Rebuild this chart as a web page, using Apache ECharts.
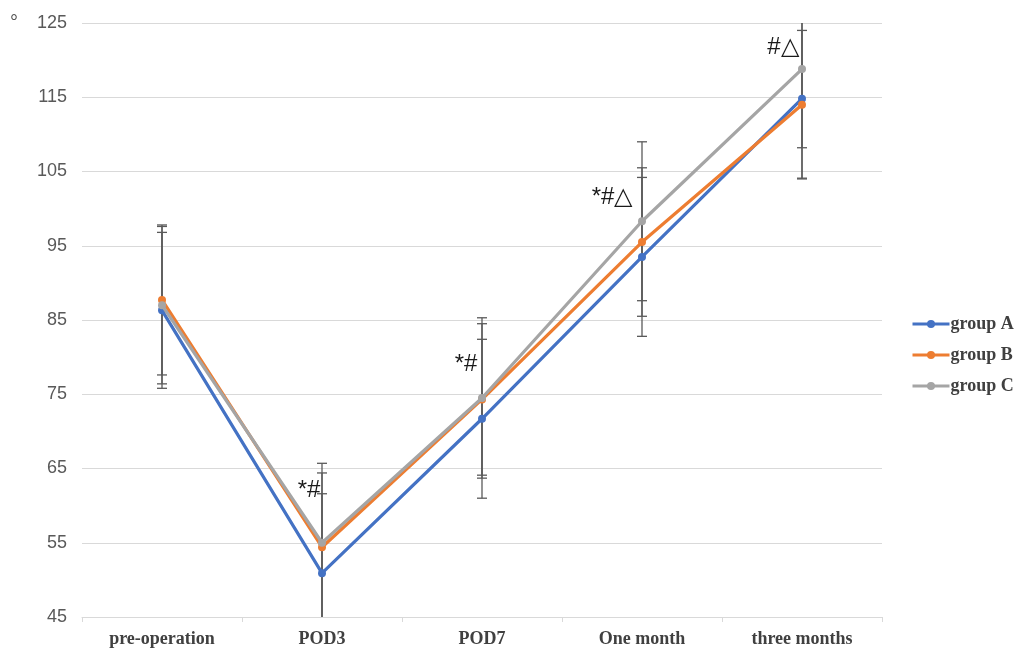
<!DOCTYPE html>
<html>
<head>
<meta charset="utf-8">
<script src="https://cdn.jsdelivr.net/npm/echarts@6/dist/echarts.min.js"></script>
<style>html,body{margin:0;padding:0;background:#fff}#c{width:1019px;height:655px}</style>
</head>
<body>
<div id="c"></div>
<script>
var categories = ['pre-operation', 'POD3', 'POD7', 'One month', 'three months'];
var groupA = [86.3, 50.9, 71.7, 93.5, 114.8];
var groupB = [87.7, 54.4, 74.3, 95.5, 114.0];
var groupC = [87.0, 55.0, 74.5, 98.3, 118.8];
var sdA = [10.5, 10.7, 10.7, 10.7, 10.7];
var sdB = [10.1, 10.0, 10.2, 10.0, 10.0];
var sdC = [10.6, 10.7, 10.8, 10.7, 10.6];
var annotations = ['', '*#', '*#', '*#\u25B3', '#\u25B3'];
var yMin = 45, yMax = 125, yStep = 10;

var annOffsets = [[0,0], [-13,-52], [-16,-34], [-30,-24], [-19,-22]];

function errData(vals, sds) {
  return vals.map(function (v, i) { return [i, v - sds[i], v + sds[i]]; });
}

function errSeries(name, vals, sds) {
  return {
    type: 'custom',
    name: name + ' err',
    z: 1,
    silent: true,
    data: errData(vals, sds),
    renderItem: function (params, api) {
      var x = api.value(0);
      var lo = api.value(1), hi = api.value(2);
      var loC = Math.max(lo, yMin), hiC = Math.min(hi, yMax);
      var p1 = api.coord([x, loC]);
      var p2 = api.coord([x, hiC]);
      var cw = 5;
      var st = { stroke: '#5a5a5a', lineWidth: 1.3 };
      var children = [{ type: 'line', shape: { x1: p1[0], y1: p1[1], x2: p2[0], y2: p2[1] }, style: st }];
      if (lo >= yMin) children.push({ type: 'line', shape: { x1: p1[0] - cw, y1: p1[1], x2: p1[0] + cw, y2: p1[1] }, style: st });
      if (hi <= yMax) children.push({ type: 'line', shape: { x1: p2[0] - cw, y1: p2[1], x2: p2[0] + cw, y2: p2[1] }, style: st });
      return { type: 'group', children: children };
    }
  };
}

function lineSeries(name, vals, color, z) {
  return {
    type: 'line', name: name, data: vals, z: z,
    symbol: 'circle', symbolSize: 8,
    lineStyle: { color: color, width: 3.2 },
    itemStyle: { color: color },
    emphasis: { disabled: true }
  };
}

var cData = groupC.map(function (v, i) {
  var d = { value: v };
  if (annotations[i]) {
    d.label = {
      show: true, formatter: annotations[i], position: 'inside',
      offset: annOffsets[i], color: '#1a1a1a', fontSize: 24,
      fontFamily: 'Liberation Sans, Arial, sans-serif'
    };
  }
  return d;
});

var chart = echarts.init(document.getElementById('c'), null, { renderer: 'canvas' });
var sC = lineSeries('group C', cData, '#A5A5A5', 4);
var option = {
  animation: false,
  backgroundColor: '#fff',
  grid: { left: 82, right: 137, top: 23, bottom: 38, containLabel: false },
  legend: {
    orient: 'vertical', left: 906, top: 310, itemGap: 13,
    itemWidth: 37, itemHeight: 10,
    lineStyle: { width: 3 },
    data: ['group A', 'group B', 'group C'],
    textStyle: { fontFamily: 'Liberation Serif, Times New Roman, serif', fontWeight: 'bold', fontSize: 18, color: '#404040', padding: [0,0,0,-4] }
  },
  graphic: [{ type: 'text', left: 10, top: 13, style: { text: '\u00B0', fontSize: 20, fill: '#555', fontFamily: 'Liberation Sans, Arial, sans-serif' } }],
  xAxis: {
    type: 'category', data: categories, boundaryGap: true,
    axisLine: { lineStyle: { color: '#d9d9d9', width: 1 } },
    axisTick: { show: true, length: 5, lineStyle: { color: '#d9d9d9' } },
    axisLabel: { margin: 13, color: '#404040', fontSize: 18, fontWeight: 'bold', fontFamily: 'Liberation Serif, Times New Roman, serif' }
  },
  yAxis: {
    type: 'value', min: yMin, max: yMax, interval: yStep,
    axisLine: { show: false }, axisTick: { show: false },
    splitLine: { lineStyle: { color: '#d9d9d9', width: 1 } },
    axisLabel: { margin: 15, color: '#595959', fontSize: 18, fontFamily: 'Liberation Sans, Arial, sans-serif' }
  },
  series: [
    errSeries('group A', groupA, sdA),
    errSeries('group B', groupB, sdB),
    errSeries('group C', groupC, sdC),
    lineSeries('group A', groupA, '#4472C4', 3),
    lineSeries('group B', groupB, '#ED7D31', 3),
    sC
  ]
};
chart.setOption(option);
</script>
</body>
</html>
